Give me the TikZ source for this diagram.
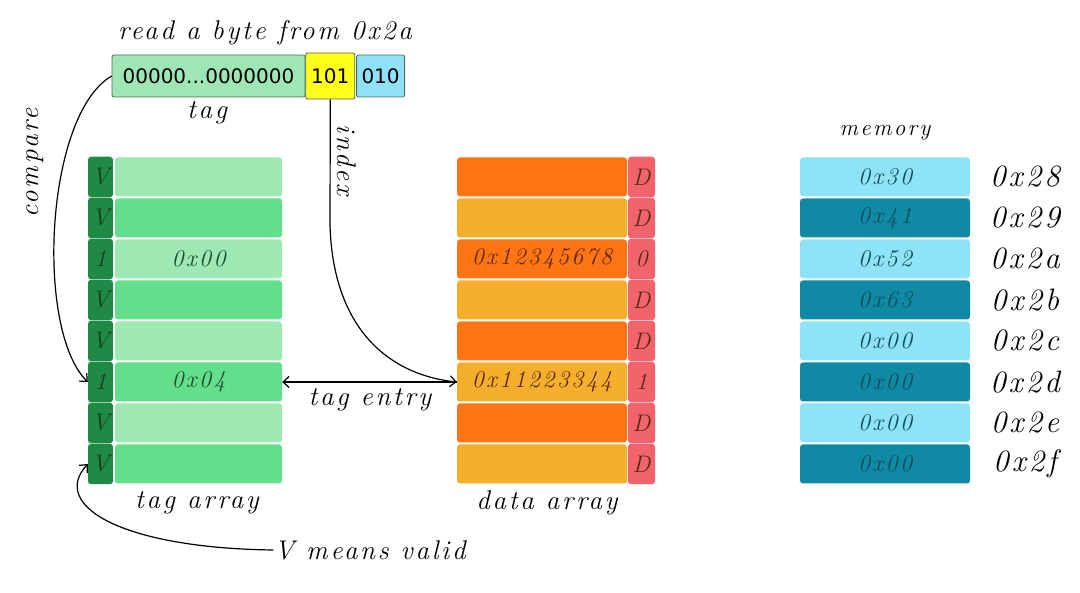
\documentclass[tikz,border=0pt]{standalone}
\usepackage{fontspec}
\newfontfamily\hand[LetterSpace=10]{Latin Modern Roman}
\newfontfamily\binfont{DejaVu Sans}
\usetikzlibrary{positioning,arrows.meta}
\definecolor{tagLight}{HTML}{9DE8B3}
\definecolor{tagMid}{HTML}{63DE8B}
\definecolor{tagDark}{HTML}{1F8A45}
\definecolor{tagText}{HTML}{1B4D2B}
\definecolor{dataOrange}{HTML}{FF7413}
\definecolor{dataYellow}{HTML}{F5AF2C}
\definecolor{dataFlag}{HTML}{F2646B}
\definecolor{dataText}{HTML}{5A2A12}
\definecolor{memLight}{HTML}{8FE3F6}
\definecolor{memDark}{HTML}{1089A4}
\definecolor{memText}{HTML}{0E4E5E}
\definecolor{barGreen}{HTML}{9EE6B4}
\definecolor{barYellow}{HTML}{FFFF1A}
\definecolor{barBlue}{HTML}{8FE1F8}
\definecolor{barLine}{HTML}{4F6B55}

\begin{document}
\begin{tikzpicture}[x=1pt,y=-1pt]
  \tikzset{cell/.style = {rounded corners=3pt,minimum height=39pt,inner sep=0pt,
      font=\hand\itshape\fontsize{24}{25}\selectfont}}
  \tikzset{lbl/.style = {inner sep=1pt,font=\hand\itshape\fontsize{27}{28}\selectfont}}
  \tikzset{bits/.style = {draw=barLine,thick,rounded corners=2pt,inner sep=0pt,
      font=\binfont\fontsize{20}{21}\selectfont}}
  \tikzset{edge/.style = {line width=1.2pt,-{Straight Barb[length=6pt,width=11pt]}}}
  \useasboundingbox (0,0) rectangle (1080,593);

  % address split
  \node[bits,fill=barGreen,minimum width=193pt,minimum height=42pt] (tagbits) at (208.5,76) {00000...0000000};
  \node[bits,fill=barYellow,minimum width=49pt,minimum height=46pt,right=0pt of tagbits] (idx) {101};
  \node[bits,fill=barBlue,minimum width=48pt,minimum height=42pt,right=1pt of idx] (off) {010};
  \node[lbl] (title) at (265,33) {read a byte from 0x2a};
  \node[lbl] (taglbl) at (207,113) {tag};

  % tag array
  \foreach \v/\t/\c [count=\i] in {V//tagLight,V//tagMid,1/0x00/tagLight,V//tagMid,
      V//tagLight,1/0x04/tagMid,V//tagLight,V//tagMid}{
    \node[cell,fill=\c,text=tagText,minimum width=167pt] (t\i) at (198.5,{136+41*\i}) {\t};
    \node[cell,fill=tagDark,text=tagText!80!black,minimum width=25pt,minimum height=40.5pt] (v\i) at (100.5,{136+41*\i}) {\v};
  }
  \node[lbl] (tagarr) at (197,503) {tag array};

  % data array
  \foreach \f/\t/\c [count=\i] in {D//dataOrange,D//dataYellow,0/0x12345678/dataOrange,D//dataYellow,
      D//dataOrange,1/0x11223344/dataYellow,D//dataOrange,D//dataYellow}{
    \node[cell,fill=\c,text=dataText,minimum width=170pt] (d\i) at (542,{136+41*\i}) {\t};
    \node[cell,fill=dataFlag,text=dataText,minimum width=27pt,minimum height=40.5pt] (f\i) at (641.5,{136+41*\i}) {\f};
  }
  \node[lbl] (dataarr) at (547,503) {data array};

  % memory
  \foreach \m/\a/\c [count=\i] in {0x30/0x28/memLight,0x41/0x29/memDark,0x52/0x2a/memLight,0x63/0x2b/memDark,
      0x00/0x2c/memLight,0x00/0x2d/memDark,0x00/0x2e/memLight,0x00/0x2f/memDark}{
    \node[cell,fill=\c,text=memText,minimum width=170pt] (m\i) at (885,{136+41*\i}) {\m};
    \node[lbl,font=\hand\itshape\fontsize{31}{32}\selectfont] (a\i) at (1025,{136+41*\i}) {\a};
  }
  \node[lbl,font=\hand\itshape\fontsize{23}{24}\selectfont] (memlbl) at (885,133) {memory};

  % connectors
  \draw[edge] (tagbits.west) .. controls (45,115) and (35,330) .. (v6.west);
  \node[lbl,rotate=90] (cmp) at (35,163) {compare};
  \draw[edge] (idx.south) -- (330,225) .. controls (333,330) and (390,375) .. (d6.west);
  \node[lbl,rotate=-90] (idxlbl) at (347,160) {index};
  \draw[edge] (d6.west) -- (t6.east);
  \node[lbl] (entry) at (370,400) {tag entry};
  \node[lbl] (valid) at (370,550) {V means valid};
  \draw[edge] (valid.west) .. controls (120,548) and (50,505) .. (v8.west);
\end{tikzpicture}
\end{document}
